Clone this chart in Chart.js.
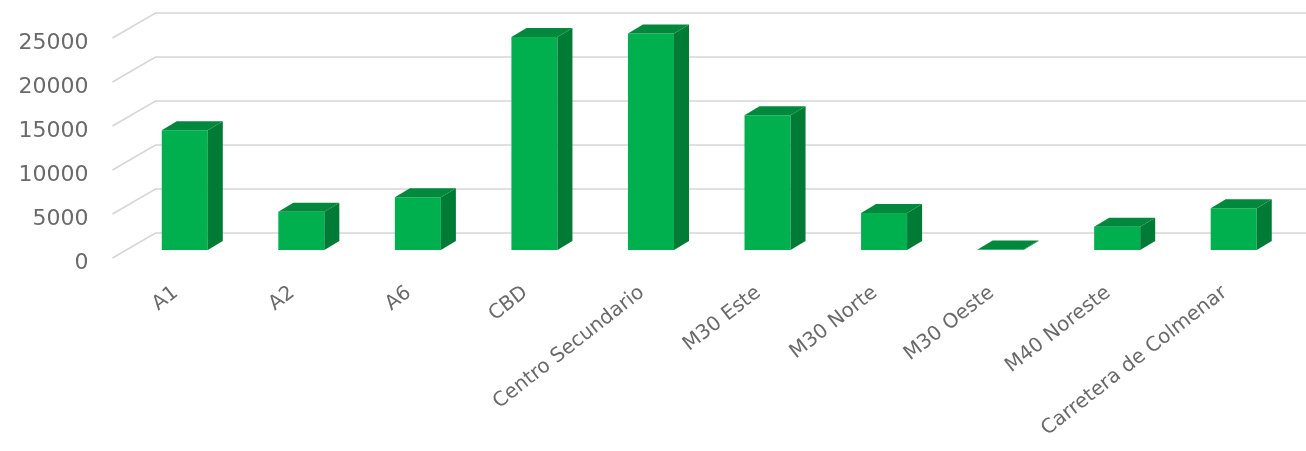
<!DOCTYPE html>
<html lang="es">
<head>
  <meta charset="UTF-8">
  <title>Zonas</title>
  <script src="https://cdn.jsdelivr.net/npm/chart.js"></script>
  <style>
    body {
      margin: 0;
      padding: 0;
      background-color: #ffffff;
    }
    #grafico {
      display: block;
    }
  </style>
</head>
<body>
  <canvas id="grafico" width="1306" height="451"></canvas>

  <script>
    // Datos
    const zonas = ['A1', 'A2', 'A6', 'CBD', 'Centro Secundario', 'M30 Este', 'M30 Norte', 'M30 Oeste', 'M40 Noreste', 'Carretera de Colmenar'];
    const valores = [13600, 4350, 6000, 24200, 24600, 15300, 4200, 50, 2650, 4740];
    const ticksY = [0, 5000, 10000, 15000, 20000, 25000];

    // Colores del efecto 3D
    const verdeFrente = '#00b04f';
    const verdeLado = '#007b36';
    const verdeArriba = '#00893c';
    const gris = '#d6d6d6';

    // Pared del fondo y lineas en diagonal (simula el grafico 3D de Excel)
    const paredPlugin = {
      id: 'pared',
      beforeDatasetsDraw(chart) {
        const ctx = chart.ctx;
        const area = chart.chartArea;
        const y = chart.scales.y;
        ctx.save();
        ctx.strokeStyle = gris;
        ctx.lineWidth = 1.6;
        ticksY.forEach(function(v) {
          const py = y.getPixelForValue(v);
          ctx.beginPath();
          ctx.moveTo(area.left - 14, py + 8);
          ctx.lineTo(area.left + 29, py - 17);
          ctx.lineTo(chart.width, py - 17);
          ctx.stroke();
        });
        ctx.restore();
      }
    };

    // Caras laterales y superiores de las barras
    const cajaPlugin = {
      id: 'caja',
      afterDatasetsDraw(chart) {
        const ctx = chart.ctx;
        const dx = 15, dy = 9;
        ctx.save();
        chart.getDatasetMeta(0).data.forEach(function(bar) {
          const p = bar.getProps(['x', 'y', 'base', 'width'], true);
          const l = p.x - p.width / 2;
          const r = p.x + p.width / 2;
          // lado
          ctx.fillStyle = verdeLado;
          ctx.beginPath();
          ctx.moveTo(r, p.y);
          ctx.lineTo(r + dx, p.y - dy);
          ctx.lineTo(r + dx, p.base - dy);
          ctx.lineTo(r, p.base);
          ctx.closePath();
          ctx.fill();
          // arriba
          ctx.fillStyle = verdeArriba;
          ctx.beginPath();
          ctx.moveTo(l, p.y);
          ctx.lineTo(l + dx, p.y - dy);
          ctx.lineTo(r + dx, p.y - dy);
          ctx.lineTo(r, p.y);
          ctx.closePath();
          ctx.fill();
        });
        ctx.restore();
      }
    };

    const grafico = new Chart(document.getElementById('grafico'), {
      type: 'bar',
      data: {
        labels: zonas,
        datasets: [{
          data: valores,
          backgroundColor: verdeFrente,
          borderWidth: 0,
          categoryPercentage: 1,
          barPercentage: 0.395
        }]
      },
      options: {
        responsive: false,
        animation: false,
        devicePixelRatio: 1,
        layout: {
          padding: { top: 30, right: 14, left: 0, bottom: 0 }
        },
        plugins: {
          legend: { display: false },
          tooltip: { enabled: false }
        },
        scales: {
          x: {
            grid: { display: false, drawTicks: false },
            border: { display: false },
            ticks: {
              color: '#6a6a6a',
              font: { family: 'DejaVu Sans', size: 20 },
              minRotation: 38,
              maxRotation: 38,
              padding: 31,
              labelOffset: -9,
              autoSkip: false
            },
            afterFit: function(scale) { scale.height = 201; }
          },
          y: {
            min: 0,
            max: 25000,
            afterBuildTicks: function(scale) {
              scale.ticks = ticksY.map(function(v) { return { value: v }; });
            },
            grid: { display: false, drawTicks: false },
            border: { display: false },
            ticks: {
              color: '#6a6a6a',
              font: { family: 'DejaVu Sans', size: 22 },
              padding: 38,
              labelOffset: 13,
              callback: function(v) { return String(v); }
            },
            afterFit: function(scale) {
              scale.width = 126.5;
              scale.paddingTop = 0;
              scale.paddingBottom = 0;
            }
          }
        }
      },
      plugins: [paredPlugin, cajaPlugin]
    });
  </script>
</body>
</html>
